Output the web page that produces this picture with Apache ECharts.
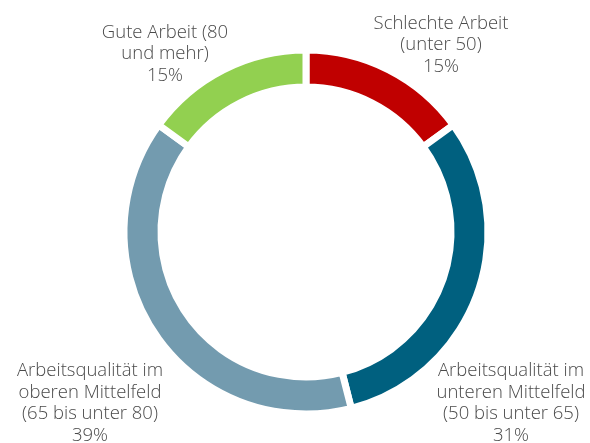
<!DOCTYPE html>
<html>
<head>
<meta charset="utf-8">
<script src="https://cdn.jsdelivr.net/npm/echarts@6/dist/echarts.min.js"></script>
<style>
  html, body { margin: 0; padding: 0; background: #fff; }
  #chart { width: 590px; height: 443px; }
</style>
</head>
<body>
<div id="chart"></div>
<script>
// Daten
const categories = [
    'Schlechte Arbeit\n(unter 50)',
    'Arbeitsqualität im\nunteren Mittelfeld\n(50 bis unter 65)',
    'Arbeitsqualität im\noberen Mittelfeld\n(65 bis unter 80)',
    'Gute Arbeit (80\nund mehr)'
];
const shares = [15, 31, 39, 15];
const colors = ['#C00000', '#00607F', '#739BAF', '#92D050'];

// Label-Positionen (Mitte des Textblocks)
const labelPos = [
    [441, 45],
    [511, 403],
    [90, 403],
    [165, 54]
];

const myChart = echarts.init(document.getElementById('chart'));

const option = {
    animation: false,
    series: [
        {
            type: 'pie',
            center: [306, 232],
            radius: [145, 182],
            startAngle: 90,
            clockwise: true,
            data: categories.map((name, i) => ({
                name: name,
                value: shares[i],
                itemStyle: { color: colors[i] }
            })),
            itemStyle: {
                borderColor: '#fff',
                borderWidth: 7
            },
            label: {
                show: true,
                position: 'outside',
                alignTo: 'none',
                overflow: 'none',
                formatter: (p) => p.name + '\n' + p.value + '%',
                fontFamily: 'Open Sans',
                fontWeight: 300,
                fontSize: 18.5,
                lineHeight: 21.5,
                color: '#4a4a4a',
                align: 'center'
            },
            labelLine: { show: false },
            labelLayout: (params) => ({
                x: labelPos[params.dataIndex][0],
                y: labelPos[params.dataIndex][1],
                align: 'center',
                verticalAlign: 'middle'
            }),
            emphasis: { disabled: true }
        }
    ]
};

myChart.setOption(option);
</script>
</body>
</html>
